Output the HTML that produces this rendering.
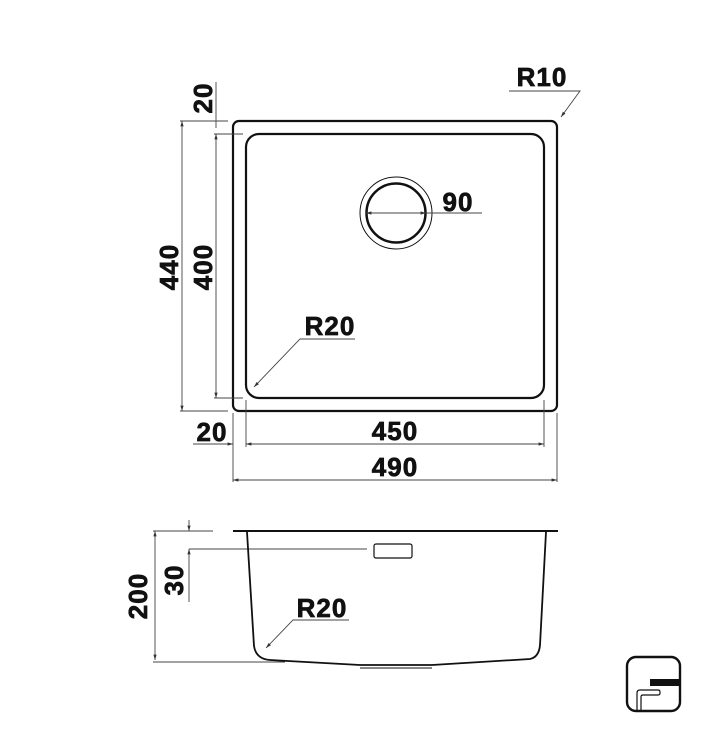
<!DOCTYPE html>
<html><head><meta charset="utf-8"><style>
html,body{margin:0;padding:0;background:#fff;}
svg{display:block;}
text{font-family:"Liberation Sans",sans-serif;font-weight:bold;font-size:26px;fill:#111;stroke:#111;stroke-width:0.7;text-anchor:middle;letter-spacing:1px;}
</style></head><body>
<svg width="725" height="731" viewBox="0 0 725 731" xmlns="http://www.w3.org/2000/svg">
<defs>
<marker id="a" viewBox="0 0 10 10" refX="10" refY="5" markerWidth="6" markerHeight="6" orient="auto-start-reverse"><path d="M0,2 L10,5 L0,8 z" fill="#333"/></marker>
</defs>
<g fill="none" stroke="#111">
<rect x="233" y="121" width="324" height="290" rx="6" stroke-width="2.2"/>
<rect x="246" y="134" width="298" height="264" rx="13" stroke-width="2.2"/>
<circle cx="396" cy="213" r="36" stroke-width="1"/>
<circle cx="396" cy="213" r="29.5" stroke-width="2.5"/>
</g>
<g stroke="#444" stroke-width="0.9" fill="none">
<line x1="366" y1="213" x2="426" y2="213" marker-start="url(#a)" marker-end="url(#a)"/>
<line x1="426" y1="213" x2="482" y2="213"/>
<line x1="182" y1="121" x2="182" y2="411" marker-start="url(#a)" marker-end="url(#a)"/>
<line x1="180" y1="121" x2="228" y2="121"/>
<line x1="180" y1="411" x2="228" y2="411"/>
<line x1="216" y1="134" x2="216" y2="398" marker-start="url(#a)" marker-end="url(#a)"/>
<line x1="214" y1="134" x2="243" y2="134"/>
<line x1="214" y1="398" x2="243" y2="398"/>
<line x1="216" y1="82" x2="216" y2="128"/>
<line x1="246" y1="444" x2="544" y2="444" marker-start="url(#a)" marker-end="url(#a)"/>
<line x1="193" y1="444" x2="233" y2="444" marker-end="url(#a)"/>
<line x1="233" y1="413" x2="233" y2="482"/>
<line x1="246" y1="400" x2="246" y2="447"/>
<line x1="544" y1="400" x2="544" y2="447"/>
<line x1="557" y1="413" x2="557" y2="482"/>
<line x1="233" y1="480" x2="557" y2="480" marker-start="url(#a)" marker-end="url(#a)"/>
<polyline points="509,91 580,91 561,117" marker-end="url(#a)"/>
<polyline points="355,339 300,339 254,387" marker-end="url(#a)"/>
<line x1="155" y1="531" x2="155" y2="660" marker-start="url(#a)" marker-end="url(#a)"/>
<line x1="153" y1="531" x2="213" y2="531"/>
<line x1="153" y1="662" x2="285" y2="662"/>
<line x1="189" y1="520" x2="189" y2="531" marker-end="url(#a)"/>
<line x1="189" y1="549" x2="189" y2="602" marker-start="url(#a)"/>
<line x1="189" y1="549" x2="367" y2="549"/>
<polyline points="349,620 293,620 266,648" marker-end="url(#a)"/>
</g>
<g fill="none" stroke="#111">
<line x1="233" y1="531" x2="558" y2="531" stroke-width="2"/>
<path d="M247,532 L254,646 Q256,659 270,660 L360,665 L432,665 L530,659 Q539,657 540,645 L546,532" stroke-width="1.8"/>
<line x1="360" y1="668" x2="432" y2="668" stroke-width="1"/>
<rect x="374" y="544" width="38" height="14" rx="2" stroke-width="1.2"/>
<rect x="627" y="657" width="53" height="54" rx="9" stroke-width="2.4"/>
<path d="M637,711 L637,693 Q637,690 640,690 L658,690 Q660,690 660,692 L660,693 Q660,695 658,695 L643,695 Q641,695 641,697 L641,711" stroke-width="1.2"/>
</g>
<rect x="650" y="679" width="30" height="7" fill="#111"/>
<g>
<text x="542" y="86">R10</text>
<text x="458" y="211">90</text>
<text x="330" y="335">R20</text>
<text x="212" y="441">20</text>
<text x="395" y="440">450</text>
<text x="395" y="476">490</text>
<text transform="translate(178,267) rotate(-90)">440</text>
<text transform="translate(212,267) rotate(-90)">400</text>
<text transform="translate(212,98) rotate(-90)">20</text>
<text transform="translate(147,596) rotate(-90)">200</text>
<text transform="translate(183,580) rotate(-90)">30</text>
<text x="322" y="617">R20</text>
</g>
</svg>
</body></html>
